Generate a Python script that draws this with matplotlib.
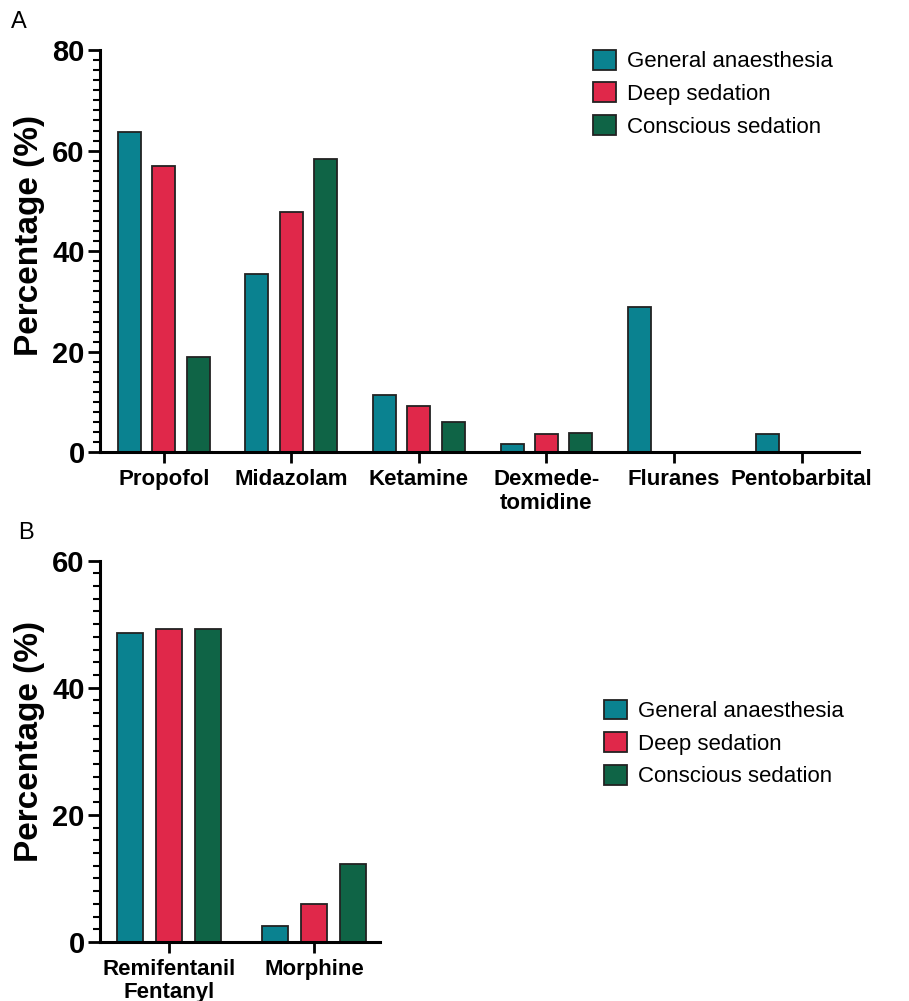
import numpy as np
import matplotlib
matplotlib.use("Agg")
import matplotlib.pyplot as plt
from matplotlib.ticker import MultipleLocator

plt.rcParams['font.family'] = ['Liberation Sans', 'DejaVu Sans']

groups = ["General anaesthesia", "Deep sedation", "Conscious sedation"]
colors = ["#0a8290", "#e0284a", "#0f6446"]

# panel A: hypnotics
drugs_a = ["Propofol", "Midazolam", "Ketamine", "Dexmede-\ntomidine", "Fluranes", "Pentobarbital"]
general_a = [63.7, 35.4, 11.5, 1.6, 29.0, 3.6]
deep_a = [57.0, 47.8, 9.2, 3.6, 0, 0]
conscious_a = [19.0, 58.3, 6.0, 3.8, 0, 0]

# panel B: opioids
drugs_b = ["Remifentanil\nFentanyl", "Morphine"]
general_b = [48.6, 2.5]
deep_b = [49.3, 5.9]
conscious_b = [49.3, 12.3]

fig = plt.figure(figsize=(9.09, 10.01), dpi=100)
ax_a = fig.add_axes([0.110, 0.548, 0.835, 0.402])
ax_b = fig.add_axes([0.110, 0.059, 0.308, 0.381])


def draw_panel(ax, names, series, ymax, xlim, legend_pos, label_xy):
    x = np.arange(len(names))
    width = 0.18
    offsets = [-0.27, 0, 0.27]
    for vals, off, col, lab in zip(series, offsets, colors, groups):
        vals = np.array(vals, dtype=float)
        mask = vals > 0
        ax.bar(x[mask] + off, vals[mask], width, color=col, edgecolor="#222222",
               linewidth=1.3, label=lab, zorder=2)
    ax.set_xlim(*xlim)
    ax.set_ylim(0, ymax)
    ax.yaxis.set_major_locator(MultipleLocator(20))
    ax.yaxis.set_minor_locator(MultipleLocator(2))
    ax.set_xticks(x)
    ax.set_xticklabels(names, fontsize=16, fontweight="bold", linespacing=1.15)
    for lbl in ax.get_yticklabels():
        lbl.set_fontsize(21)
        lbl.set_fontweight("bold")
    ax.tick_params(axis="y", which="major", length=9, width=2, pad=2)
    ax.tick_params(axis="y", which="minor", length=5, width=1.5)
    ax.tick_params(axis="x", length=8, width=2, pad=4)
    ax.set_ylabel("Percentage (%)", fontsize=24, fontweight="bold")
    ax.yaxis.set_label_coords(*label_xy)
    for side in ["top", "right"]:
        ax.spines[side].set_visible(False)
    for side in ["left", "bottom"]:
        ax.spines[side].set_linewidth(2.2)
    ax.legend(loc="upper left", bbox_to_anchor=legend_pos, bbox_transform=fig.transFigure,
              frameon=False, fontsize=16, handlelength=1.0, handleheight=1.0,
              handletextpad=0.5, labelspacing=0.45, borderaxespad=0)


draw_panel(ax_a, drugs_a, [general_a, deep_a, conscious_a], 80, (-0.5, 5.45),
           (0.643, 0.959), (-0.0725, 0.54))
draw_panel(ax_b, drugs_b, [general_b, deep_b, conscious_b], 60, (-0.476, 1.455),
           (0.655, 0.310), (-0.196, 0.526))

fig.text(0.012, 0.978, "A", fontsize=17, va="center")
fig.text(0.020, 0.468, "B", fontsize=17, va="center")

fig.savefig("out.png", dpi=100)
